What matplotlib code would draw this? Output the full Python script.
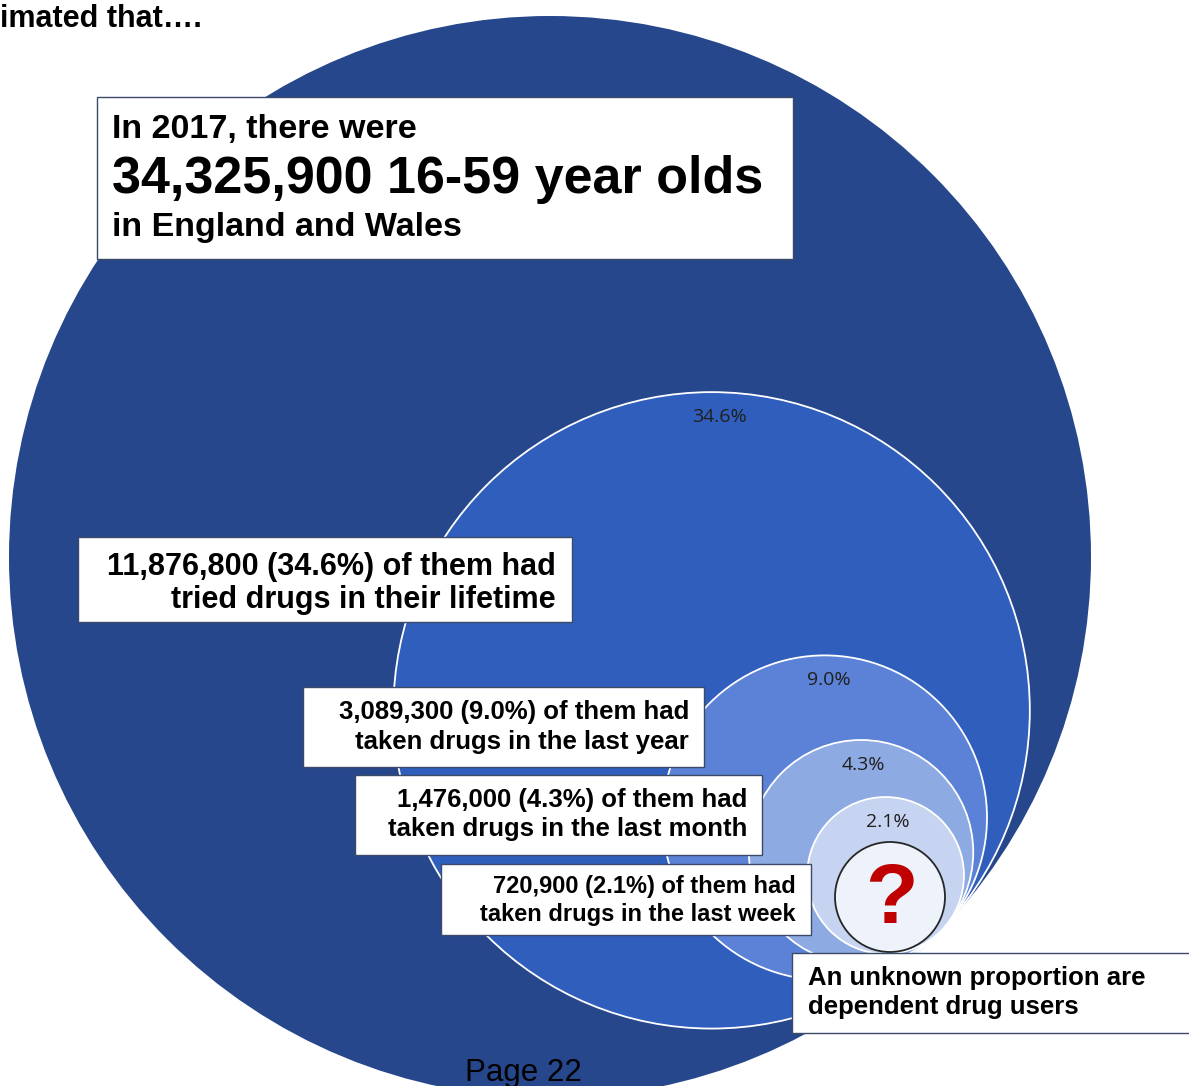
"""Nested circles: drug use among 16-59 year olds in England and Wales, 2017"""

import numpy as np
from matplotlib import pyplot as plt
from matplotlib.patches import Circle, Rectangle

# Population and the nested groups (counts and share of the population)
population = 34325900
year = 2017
counts = [11876800, 3089300, 1476000, 720900]
shares = [34.6, 9.0, 4.3, 2.1]
periods = ['tried drugs in their lifetime', 'taken drugs in the last year',
           'taken drugs in the last month', 'taken drugs in the last week']

# Layout, in pixels (y runs downwards)
W, H = 1189, 1086
big_center = (550, 557)
big_radius = 541
touch_angle = np.radians(43.5)
fills = ['#305ebd', '#5b82d6', '#8eaae2', '#c7d4f1']
outer_fill = '#26478b'

fig = plt.figure(figsize=(W / 100, H / 100), dpi=100)
ax = fig.add_axes([0, 0, 1, 1])
ax.set_xlim(0, W)
ax.set_ylim(H, 0)
ax.axis('off')

# Whole population
ax.add_patch(Circle(big_center, big_radius, facecolor=outer_fill, edgecolor='none'))

# Inner circles all touch the outer one at the same point
touch = (big_center[0] + big_radius * np.cos(touch_angle),
         big_center[1] + big_radius * np.sin(touch_angle))
for share, color in zip(shares, fills):
    r = big_radius * np.sqrt(share / 100)
    cx = touch[0] - r * np.cos(touch_angle)
    cy = touch[1] - r * np.sin(touch_angle)
    ax.add_patch(Circle((cx, cy), r, facecolor=color, edgecolor='white', lw=1.3))
    ax.text(cx + 0.025 * r, cy - r + 25, f'{share:.1f}%', ha='center', va='center',
            fontsize=14, family='Open Sans', color='#1f1f1f')

# Unknown proportion of dependent users
ax.add_patch(Circle((890, 897), 55, facecolor='#eef2fa', edgecolor='#262626', lw=1.3))
ax.text(891, 901, '?', ha='center', va='center', fontsize=62,
        fontweight='bold', family='Liberation Sans', color='#c00000')


def box(x0, y0, x1, y1):
    ax.add_patch(Rectangle((x0, y0), x1 - x0, y1 - y0, facecolor='white',
                           edgecolor='#3b4a66', lw=1.0, zorder=3))


txt = dict(family='Liberation Sans', fontweight='bold', color='black', zorder=4)

# Heading box
box(97, 97, 793, 259)
ax.text(112, 138, f'In {year}, there were', fontsize=24.5, **txt)
ax.text(112, 193, f'{population:,} 16-59 year olds', fontsize=37.5, **txt)
ax.text(112, 236, 'in England and Wales', fontsize=24.5, **txt)

# Group boxes: (x0, y0, x1, y1), right edge of text, baselines, font size
group_boxes = [
    ((78, 537, 572, 622), 556, (575, 608), 22),
    ((303, 687, 704, 767), 689, (719, 749), 18.5),
    ((355, 775, 762, 855), 747, (807, 836), 18.5),
    ((441, 864, 811, 935), 796, (893, 921), 17),
]
for (rect, xr, (b1, b2), fs), n, share, period in zip(group_boxes, counts, shares, periods):
    box(*rect)
    ax.text(xr, b1, f'{n:,} ({share:.1f}%) of them had', ha='right', fontsize=fs, **txt)
    ax.text(xr, b2, period, ha='right', fontsize=fs, **txt)

box(792, 953, 1196, 1033)
ax.text(808, 985, 'An unknown proportion are', fontsize=18.5, **txt)
ax.text(808, 1014, 'dependent drug users', fontsize=18.5, **txt)

ax.text(0, 27, 'imated that….', fontsize=22, **txt)
ax.text(523, 1081, 'Page 22', ha='center', fontsize=22.5, family='Liberation Sans',
        color='black', zorder=4)

plt.savefig('out.png', dpi=100)
